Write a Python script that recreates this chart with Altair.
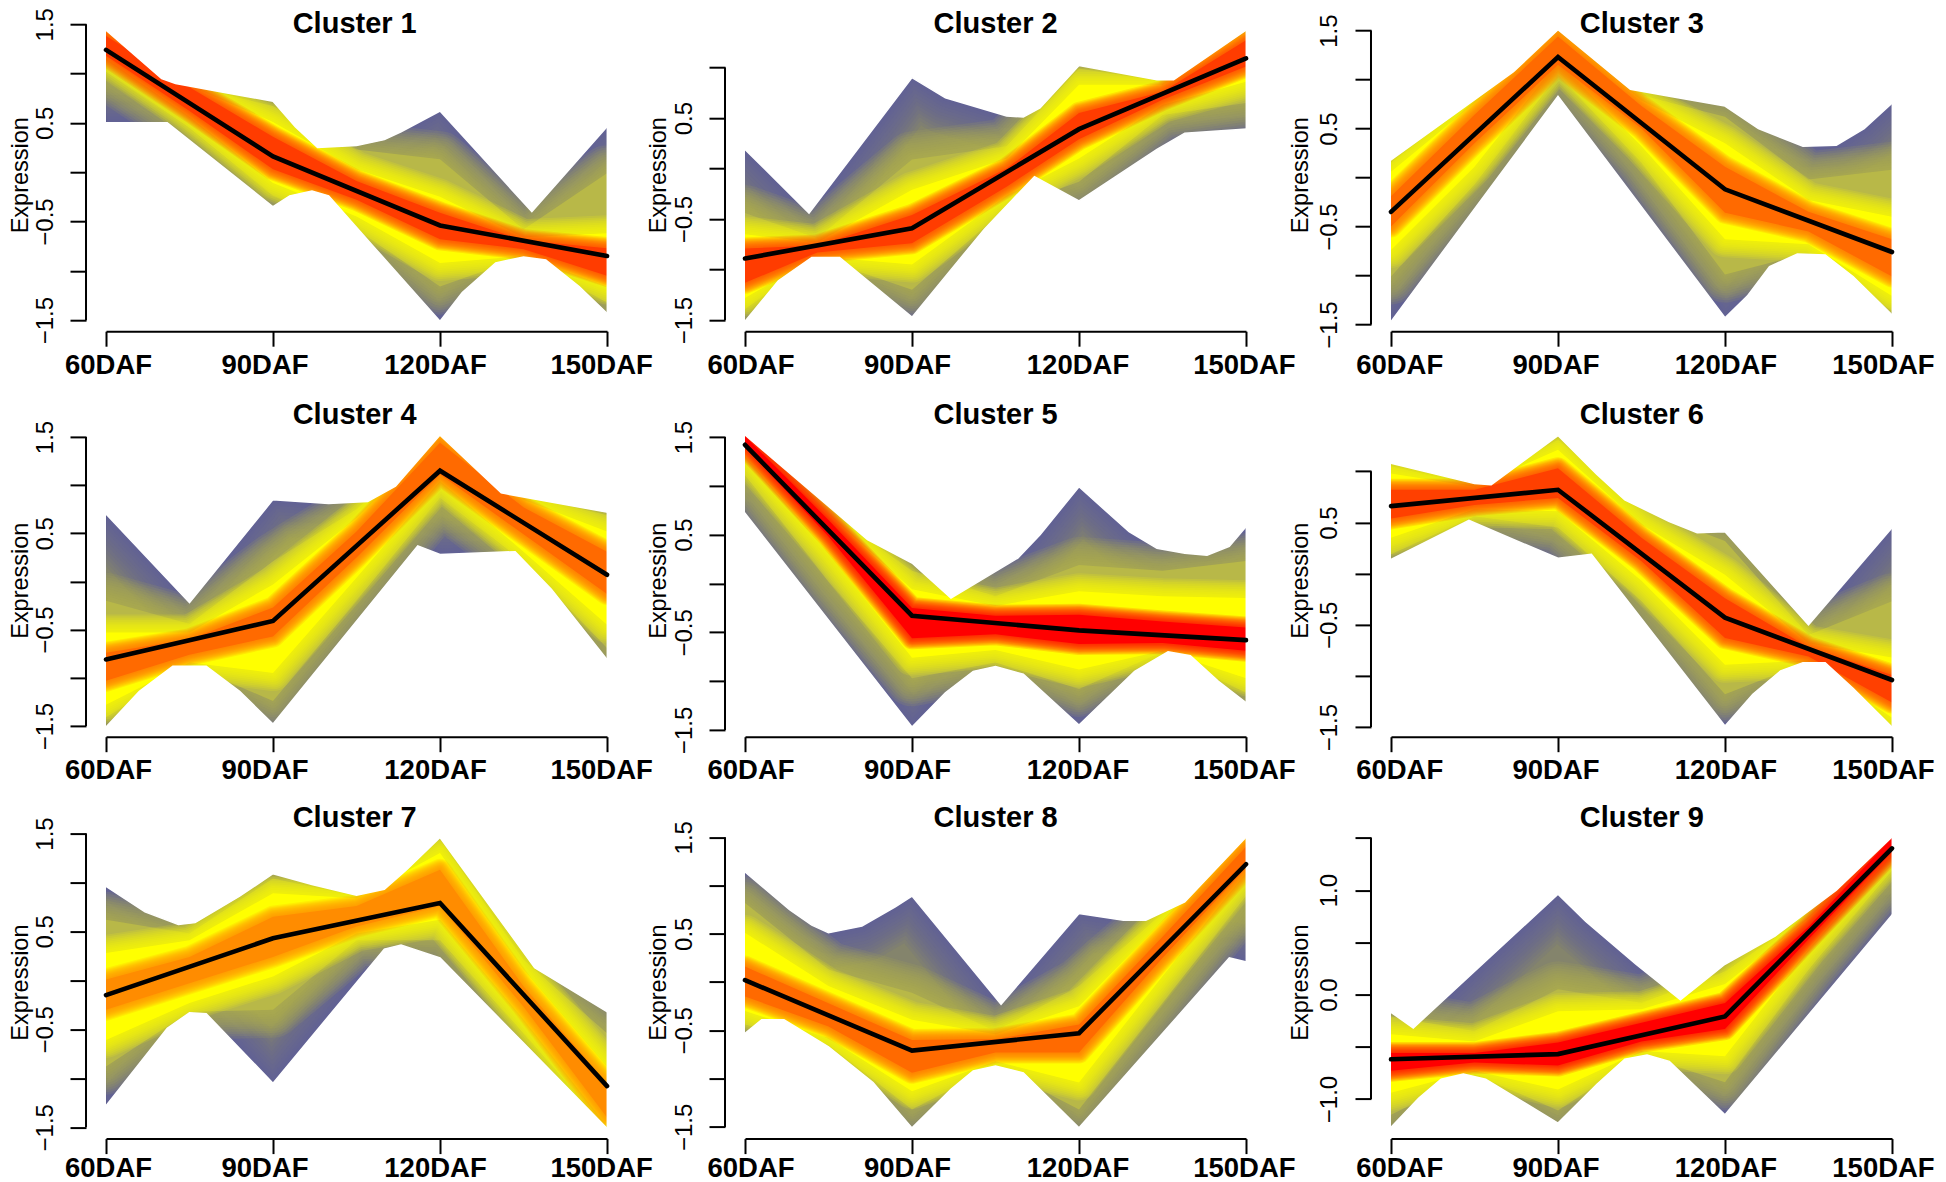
import json
import altair as alt
import pandas as pd

FONT = "Liberation Sans"
stages = ["60DAF", "90DAF", "120DAF", "150DAF"]
stage_x = [60, 90, 120, 150]
grid = [60, 75, 90, 105, 120, 135, 150]
grid2 = [60, 73, 90, 107, 120, 135, 150]

# ---------- Cluster 1 ----------
c1_mean = [1.24, 0.16, -0.54, -0.85]
c1_top_x = [60, 70, 72.5, 82, 90, 94, 98, 105, 110, 113, 120, 136.5, 150]
c1_top_y = [1.44, .95, .90, .80, .72, .46, .25, .27, .33, .41, .62, -.40, .46]
c1_bot_x = [60, 71, 90, 93, 97, 100, 108, 120, 124, 130, 135, 139, 145, 150]
c1_bot_y = [.50, .50, -.35, -.24, -.19, -.24, -.75, -1.51, -1.22, -.92, -.86, -.89, -1.16, -1.43]
c1_olive_hi = [1.44, .88, .67, .23, .13, -.58, -.01]
c1_olive_lo = [1.02, .45, -.24, -.58, -1.16, -.86, -1.32]
c1_yellow_hi = [1.44, .88, .51, .03, -.25, -.66, -.62]
c1_yellow_lo = [1.15, .56, -.11, -.45, -.92, -.85, -1.16]
c1_core_hi = [1.38, .86, .36, -.09, -.41, -.69, -.77]
c1_core_lo = [1.18, .62, .03, -.28, -.68, -.78, -1.05]

# ---------- Cluster 2 ----------
c2_mean = [-.89, -.59, .39, 1.09]
c2_top_x = [60, 71.5, 90, 96, 107, 110, 113, 120, 134, 137, 150]
c2_top_y = [.19, -.44, .90, .70, .52, .51, .60, 1.02, .88, .88, 1.37]
c2_bot_x = [60, 66, 72, 77, 90, 97, 103, 112, 120, 134, 139, 150]
c2_bot_y = [-1.51, -1.11, -.88, -.88, -1.47, -1.0, -.60, -.08, -.32, .19, .35, .39]
c2_olive_hi = [-.44, -.69, .09, .22, .99, .86, 1.37]
c2_olive_lo = [-1.39, -.88, -1.2, -.39, -.13, .53, .65]
c2_yellow_hi = [-.65, -.73, -.21, .10, .83, .83, 1.35]
c2_yellow_lo = [-1.28, -.87, -.95, -.27, .10, .63, .86]
c2_core_hi = [-.79, -.76, -.46, 0.0, .55, .76, 1.27]
c2_core_lo = [-1.13, -.83, -.74, -.18, .29, .68, 1.01]

# ---------- Cluster 3 ----------
c3_mean = [-.35, 1.23, -.12, -.76]
c3_top_x = [60, 82, 90, 103, 110, 120, 126, 134, 140, 145, 150]
c3_top_y = [.18, 1.08, 1.51, .90, .83, .73, .50, .32, .33, .50, .76]
c3_bot_x = [60, 90, 120, 124, 128, 133, 138, 143, 150]
c3_bot_y = [-1.47, .83, -1.43, -1.21, -.91, -.78, -.79, -1.01, -1.40]
c3_olive_hi = [.15, .81, 1.50, .84, .62, -.02, .08]
c3_olive_lo = [-1.01, -.07, 1.05, .15, -.99, -.77, -1.36]
c3_yellow_hi = [.06, .76, 1.49, .79, .35, -.23, -.40]
c3_yellow_lo = [-.74, .11, 1.18, .32, -.63, -.68, -1.21]
c3_core_hi = [-.19, .64, 1.44, .73, .11, -.35, -.63]
c3_core_lo = [-.50, .35, 1.15, .50, -.36, -.55, -1.01]

# ---------- Cluster 4 ----------
c4_mean = [-.81, -.41, 1.15, .07]
c4_top_x = [60, 75, 90, 100, 107, 112, 120, 131, 150]
c4_top_y = [.70, -.22, .85, .81, .83, .99, 1.52, .92, .72]
c4_bot_x = [60, 66, 72, 78, 84, 90, 116, 120, 133.5, 140, 150]
c4_bot_y = [-1.51, -1.14, -.88, -.88, -1.14, -1.48, .37, .28, .31, -.08, -.81]
c4_olive_hi = [-.20, -.44, .21, .75, 1.52, .89, .69]
c4_olive_lo = [-1.41, -.87, -1.24, -.20, .87, .21, -.69]
c4_yellow_hi = [-.53, -.53, -.03, .66, 1.51, .85, .52]
c4_yellow_lo = [-1.28, -.84, -.95, .04, 1.04, .31, -.45]
c4_core_hi = [-.74, -.60, -.27, .52, 1.44, .77, .31]
c4_core_lo = [-1.03, -.76, -.57, .25, 1.11, .49, -.13]

# ---------- Cluster 5 ----------
c5_mean = [1.42, -.33, -.48, -.58]
c5_top_x = [60, 82, 90, 97, 109, 113, 120, 129, 134, 139, 143, 147, 150]
c5_top_y = [1.52, .45, .21, -.15, .26, .50, .99, .53, .36, .31, .29, .38, .58]
c5_bot_x = [60, 90, 96, 101, 105, 110, 120, 130, 136, 140, 145, 150]
c5_bot_y = [.72, -1.47, -1.12, -.90, -.85, -.93, -1.45, -.90, -.70, -.74, -1.0, -1.22]
c5_olive_hi = [1.52, .74, .13, -.13, .19, .13, .23]
c5_olive_lo = [1.11, .02, -.97, -.81, -1.08, -.70, -1.12]
c5_yellow_hi = [1.52, .71, -.06, -.23, -.08, -.13, -.15]
c5_yellow_lo = [1.30, .31, -.76, -.68, -.88, -.69, -.97]
c5_core_hi = [1.51, .65, -.25, -.33, -.32, -.39, -.45]
c5_core_lo = [1.40, .48, -.56, -.52, -.62, -.61, -.69]

# ---------- Cluster 6 ----------
c6_mean = [.66, .82, -.43, -1.04]
c6_top_x = [60, 75, 78, 90, 97, 102, 110, 115, 120, 135, 150]
c6_top_y = [1.08, .88, .87, 1.35, .97, .72, .51, .40, .41, -.50, .45]
c6_bot_x = [60, 74, 90, 96, 120, 125, 130, 134, 138, 143, 150]
c6_bot_y = [.14, .52, .15, .19, -1.49, -1.18, -.95, -.87, -.87, -1.12, -1.50]
c6_olive_hi = [1.05, .86, 1.31, .63, .32, -.60, -.27]
c6_olive_lo = [.19, .56, .45, -.27, -1.18, -.86, -1.48]
c6_yellow_hi = [.98, .85, 1.21, .48, -.01, -.68, -.82]
c6_yellow_lo = [.35, .63, .61, -.07, -.89, -.85, -1.41]
c6_core_hi = [.82, .82, 1.03, .35, -.24, -.72, -.99]
c6_core_lo = [.54, .67, .74, .12, -.63, -.81, -1.26]

# ---------- Cluster 7 ----------
c7_mean = [-.15, .43, .79, -1.08]
c7_top_x = [60, 67, 73, 76, 84, 90, 97, 105, 110, 114, 120, 137, 150]
c7_top_y = [.96, .70, .57, .59, .86, 1.09, .98, .87, .93, 1.13, 1.46, .13, -.32]
c7_bot_x = [60, 71, 75, 78, 90, 110, 113, 120, 135, 150]
c7_bot_y = [-1.28, -.49, -.33, -.34, -1.05, .32, .36, .23, -.64, -1.51]
c7_olive_hi = [.62, .48, 1.04, .86, 1.44, .21, -.54]
c7_olive_lo = [-.88, -.32, -.30, .41, .41, -.54, -1.51]
c7_yellow_hi = [.28, .41, .89, .84, 1.30, .11, -.88]
c7_yellow_lo = [-.61, -.23, .04, .48, .62, -.40, -1.49]
c7_core_hi = [.01, .24, .65, .76, 1.13, -.06, -1.05]
c7_core_lo = [-.30, -.03, .24, .55, .76, -.27, -1.40]

# ---------- Cluster 8 ----------
c8_mean = [.02, -.71, -.53, 1.22]
c8_top_x = [60, 68, 72, 75, 81, 87, 90, 106, 120, 128, 132, 139, 150]
c8_top_y = [1.14, .75, .59, .51, .58, .78, .89, -.23, .71, .64, .64, .83, 1.5]
c8_bot_x = [60, 63, 67, 75, 83, 90, 97, 101, 105, 110, 120, 147, 150]
c8_bot_y = [-.53, -.39, -.39, -.67, -1.04, -1.51, -1.11, -.92, -.87, -.94, -1.51, .25, .21]
c8_olive_hi = [.82, .13, -.11, -.51, -.04, .71, 1.5]
c8_olive_lo = [-.44, -.65, -1.32, -.87, -1.32, -.22, .89]
c8_yellow_hi = [.51, -.04, -.39, -.54, -.25, .63, 1.49]
c8_yellow_lo = [-.30, -.58, -1.13, -.82, -1.04, .06, 1.13]
c8_core_hi = [.16, -.22, -.60, -.59, -.44, .47, 1.40]
c8_core_lo = [-.15, -.46, -.94, -.73, -.73, .25, 1.18]

# ---------- Cluster 9 ----------
c9_mean = [-.62, -.57, -.21, 1.40]
c9_top_x = [60, 64, 90, 95, 104, 112, 120, 129, 140, 150]
c9_top_y = [-.17, -.32, .96, .70, .29, -.05, .29, .56, 1.0, 1.51]
c9_bot_x = [60, 65, 69, 73, 77, 90, 97, 102, 106, 110, 120, 150]
c9_bot_y = [-1.27, -.99, -.81, -.76, -.81, -1.23, -.86, -.62, -.58, -.64, -1.15, .76]
c9_olive_hi = [-.21, -.35, .05, -.08, .22, .76, 1.51]
c9_olive_lo = [-1.15, -.76, -1.11, -.58, -.84, .24, 1.19]
c9_yellow_hi = [-.38, -.45, -.16, -.14, .10, .73, 1.51]
c9_yellow_lo = [-.94, -.73, -.91, -.54, -.59, .43, 1.34]
c9_core_hi = [-.56, -.56, -.46, -.27, -.08, .65, 1.50]
c9_core_lo = [-.73, -.65, -.68, -.45, -.33, .53, 1.37]

half_ticks = [-1.5, -1.0, -.5, 0.0, .5, 1.0, 1.5]
odd_labels = [-1.5, -.5, .5, 1.5]
ticks_p2 = [-1.5, -1.0, -.5, 0.0, .5, 1.0]
ticks_p9 = [-1.0, -.5, 0.0, .5, 1.0, 1.5]
whole_labels = [-1.0, 0.0, 1.0]

BLUE = "#5A5CA6"
GRAY = "#84846C"
OLIVE = "#B8B848"
YELLOW = "#FFFF00"
WIDTH = 501
HEIGHT = 312

clusters = [
    dict(n=1, g=grid, mean=c1_mean, tx=c1_top_x, ty=c1_top_y, bx=c1_bot_x, by=c1_bot_y,
         lv=[(c1_olive_hi, c1_olive_lo), (c1_yellow_hi, c1_yellow_lo), (c1_core_hi, c1_core_lo)],
         dom=[-1.612, 1.551], ticks=half_ticks, labs=odd_labels, core="#FF3C00"),
    dict(n=2, g=grid2, mean=c2_mean, tx=c2_top_x, ty=c2_top_y, bx=c2_bot_x, by=c2_bot_y,
         lv=[(c2_olive_hi, c2_olive_lo), (c2_yellow_hi, c2_yellow_lo), (c2_core_hi, c2_core_lo)],
         dom=[-1.609, 1.478], ticks=ticks_p2, labs=[-1.5, -.5, .5], core="#FF3C00"),
    dict(n=3, g=grid, mean=c3_mean, tx=c3_top_x, ty=c3_top_y, bx=c3_bot_x, by=c3_bot_y,
         lv=[(c3_olive_hi, c3_olive_lo), (c3_yellow_hi, c3_yellow_lo), (c3_core_hi, c3_core_lo)],
         dom=[-1.568, 1.616], ticks=half_ticks, labs=odd_labels, core="#FF6A00"),
    dict(n=4, g=grid, mean=c4_mean, tx=c4_top_x, ty=c4_top_y, bx=c4_bot_x, by=c4_bot_y,
         lv=[(c4_olive_hi, c4_olive_lo), (c4_yellow_hi, c4_yellow_lo), (c4_core_hi, c4_core_lo)],
         dom=[-1.611, 1.628], ticks=half_ticks, labs=odd_labels, core="#FF6A00"),
    dict(n=5, g=grid, mean=c5_mean, tx=c5_top_x, ty=c5_top_y, bx=c5_bot_x, by=c5_bot_y,
         lv=[(c5_olive_hi, c5_olive_lo), (c5_yellow_hi, c5_yellow_lo), (c5_core_hi, c5_core_lo)],
         dom=[-1.569, 1.626], ticks=half_ticks, labs=odd_labels, core="#FF0000"),
    dict(n=6, g=grid, mean=c6_mean, tx=c6_top_x, ty=c6_top_y, bx=c6_bot_x, by=c6_bot_y,
         lv=[(c6_olive_hi, c6_olive_lo), (c6_yellow_hi, c6_yellow_lo), (c6_core_hi, c6_core_lo)],
         dom=[-1.594, 1.456], ticks=ticks_p2, labs=[-1.5, -.5, .5], core="#FF4000"),
    dict(n=7, g=grid, mean=c7_mean, tx=c7_top_x, ty=c7_top_y, bx=c7_bot_x, by=c7_bot_y,
         lv=[(c7_olive_hi, c7_olive_lo), (c7_yellow_hi, c7_yellow_lo), (c7_core_hi, c7_core_lo)],
         dom=[-1.616, 1.571], ticks=half_ticks, labs=odd_labels, core="#FF8C00"),
    dict(n=8, g=grid, mean=c8_mean, tx=c8_top_x, ty=c8_top_y, bx=c8_bot_x, by=c8_bot_y,
         lv=[(c8_olive_hi, c8_olive_lo), (c8_yellow_hi, c8_yellow_lo), (c8_core_hi, c8_core_lo)],
         dom=[-1.621, 1.61], ticks=half_ticks, labs=odd_labels, core="#FF6A00"),
    dict(n=9, g=grid, mean=c9_mean, tx=c9_top_x, ty=c9_top_y, bx=c9_bot_x, by=c9_bot_y,
         lv=[(c9_olive_hi, c9_olive_lo), (c9_yellow_hi, c9_yellow_lo), (c9_core_hi, c9_core_lo)],
         dom=[-1.379, 1.608], ticks=ticks_p9, labs=whole_labels, core="#FF0000"),
]

# per-column and per-row layout (pixels)
col_width = [501, 508, 501]
col_title_x = [248.7, 250.6, 250.8]
col_expr_x = [-85, -86, -90]
col_label_dx = [[2.5, -8, -4.5, -5.4], [6, -4.5, -1, -1.6], [8.7, -2, 1, -8.5]]
row_top = [0, 3.8, 0]
row_title_dy = [14, 3.1, 0.5]
row_label_dy = [43, 42, 38]


def soften(widest, steps, opacity):
    """Stroke widths and opacity that fade a band's outline outwards."""
    return [(widest * (steps - i) / steps, opacity) for i in range(steps)]


envelope_soft = soften(72, 12, .11)
olive_soft = soften(56, 12, .12)
yellow_soft = soften(36, 10, .15)
core_soft = soften(22, 10, .15)


def panel(c, col, row):
    top = row_top[row]
    h = HEIGHT + top
    lo_edge, hi_edge = c["dom"]
    xs = alt.Scale(domain=[60, 150], range=[0, WIDTH], nice=False, zero=False)
    ys = alt.Scale(domain=c["dom"], range=[h, top], nice=False, zero=False)
    labs = json.dumps(c["labs"])
    x_axis = alt.Axis(values=stage_x, labels=False, tickSize=15, tickWidth=2, domainWidth=2,
                      tickColor="black", domainColor="black", grid=False, zindex=2, title=None)
    y_axis = alt.Axis(values=c["ticks"], format=".1f", domain=False, offset=20, tickSize=16,
                      tickWidth=2, tickColor="black", grid=False, labelAngle=270, labelAlign="center",
                      labelBaseline="bottom", labelPadding=13, labelFont=FONT, labelFontSize=24,
                      labelColor="black", labelOverlap=False, zindex=2, title=None,
                      labelExpr=f"indexof({labs}, datum.value) >= 0 ? datum.label : ''")
    X = alt.X("x:Q", scale=xs, axis=x_axis)
    Y = alt.Y("y:Q", scale=ys, axis=y_axis)
    layers = []

    # base of the band
    layers.append(
        alt.Chart(pd.DataFrame({"x": [60, 150], "y": [lo_edge] * 2, "y2": [hi_edge] * 2}))
        .mark_area(color=GRAY, clip=True)
        .encode(x=X, y=Y, y2="y2:Q")
    )

    # outer profiles: blue along the envelope
    d_top = pd.DataFrame({"x": c["tx"], "y": c["ty"], "y2": [hi_edge + .1] * len(c["tx"])})
    d_bot = pd.DataFrame({"x": c["bx"], "y": c["by"], "y2": [lo_edge] * len(c["bx"])})
    for d in (d_top, d_bot):
        for w, o in envelope_soft:
            layers.append(
                alt.Chart(d).mark_area(fillOpacity=0, stroke=BLUE, strokeWidth=w, strokeOpacity=o,
                                       strokeJoin="round", clip=True).encode(x=X, y=Y, y2="y2:Q")
            )

    # nested bands, each softened outwards with wider translucent strokes of its own outline
    styles = [(OLIVE, olive_soft), (YELLOW, yellow_soft), (c["core"], core_soft)]
    for (hi, lo), (color, blur) in zip(c["lv"], styles):
        d = pd.DataFrame({"x": c["g"], "y": hi, "y2": lo})
        for w, o in blur:
            layers.append(
                alt.Chart(d).mark_area(fillOpacity=0, stroke=color, strokeWidth=w, strokeOpacity=o,
                                       strokeJoin="round", clip=True).encode(x=X, y=Y, y2="y2:Q")
            )
        layers.append(alt.Chart(d).mark_area(color=color, clip=True).encode(x=X, y=Y, y2="y2:Q"))

    # white outside the envelope of the profiles
    for d in (d_top, d_bot):
        layers.append(alt.Chart(d).mark_area(color="white", stroke="white", strokeWidth=1.5).encode(x=X, y=Y, y2="y2:Q"))
    layers.append(
        alt.Chart(pd.DataFrame({"x": [150.1, 151.3], "y": [lo_edge] * 2, "y2": [hi_edge + .1] * 2}))
        .mark_area(color="white", stroke="white", strokeWidth=2)
        .encode(x=X, y=Y, y2="y2:Q")
    )

    # mean profile
    layers.append(
        alt.Chart(pd.DataFrame({"x": stage_x, "y": c["mean"]}))
        .mark_line(color="black", strokeWidth=4.6, strokeCap="round", strokeJoin="miter")
        .encode(x=X, y=Y)
    )

    # y axis line, spanning the ticks only
    layers.append(
        alt.Chart(pd.DataFrame({"y": [min(c["ticks"])], "y2": [max(c["ticks"])]}))
        .mark_rule(color="black", strokeWidth=2)
        .encode(x=alt.value(-20), y=Y, y2="y2:Q")
    )

    # texts
    one = pd.DataFrame({"a": [0]})
    layers.append(
        alt.Chart(one).mark_text(text=f"Cluster {c['n']}", font=FONT, fontSize=29, fontWeight="bold",
                                 baseline="alphabetic", align="center", color="black")
        .encode(x=alt.value(col_title_x[col]), y=alt.value(row_title_dy[row]))
    )
    layers.append(
        alt.Chart(one).mark_text(text="Expression", font=FONT, fontSize=23.5, angle=270,
                                 baseline="middle", align="center", color="black")
        .encode(x=alt.value(col_expr_x[col]), y=alt.value(top + HEIGHT / 2))
    )
    for sx, s, dx in zip(stage_x, stages, col_label_dx[col]):
        layers.append(
            alt.Chart(pd.DataFrame({"x": [sx], "t": [s]}))
            .mark_text(font=FONT, fontSize=27.5, fontWeight="bold", baseline="alphabetic", align="center",
                       color="black", dx=dx)
            .encode(x=X, y=alt.value(h + row_label_dy[row]), text="t:N")
        )

    return alt.layer(*layers).properties(width=col_width[col], height=h)


panels = [panel(c, i % 3, i // 3) for i, c in enumerate(clusters)]

chart = (
    alt.concat(*panels, columns=3, spacing=alt.RowColnumber(row=89.7, column=138), bounds="flush", align="each")
    .properties(padding={"left": 1, "top": -3.8, "right": 0, "bottom": 0}, background="white")
    .configure_view(stroke=None)
)

chart.save("out.html", embed_options={"renderer": "svg", "actions": False})
